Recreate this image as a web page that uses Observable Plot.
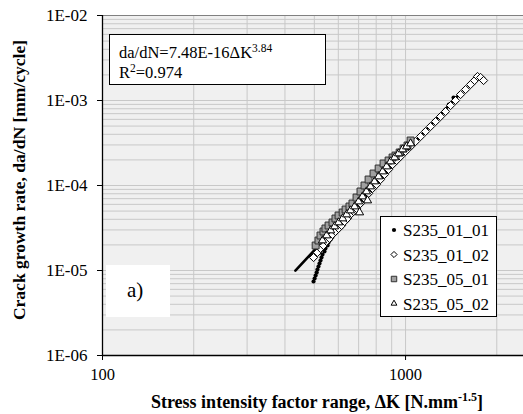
<!DOCTYPE html>
<html><head><meta charset="utf-8">
<script src="https://cdn.jsdelivr.net/npm/d3@7"></script>
<script src="https://cdn.jsdelivr.net/npm/@observablehq/plot@0.6"></script>
<style>body{margin:0;background:#fff} #chart{width:523px;height:414px}</style>
</head><body><div id="chart"></div>
<script>
// ---- data ----
const seriesNames = ["S235_01_01", "S235_01_02", "S235_05_01", "S235_05_02"];

const k_01_01 = [497,501,505,509,512,516,520,524,528,532,540,544,553,557,566,574,583,592,601,615,629,648,668,689,710,738,766,796,827,859,892,927,963,1000,1039,1079,1121,1164,1209,1256,1305,1355,1390,1440];
const r_01_01 = [7.42e-6,8.05e-6,8.73e-6,9.47e-6,1.027e-5,1.115e-5,1.209e-5,1.311e-5,1.422e-5,1.543e-5,1.673e-5,1.815e-5,1.968e-5,2.135e-5,2.316e-5,2.512e-5,2.724e-5,2.955e-5,3.205e-5,3.477e-5,3.77e-5,4.318e-5,4.944e-5,5.66e-5,6.48e-5,7.63e-5,8.73e-5,1.027e-4,1.176e-4,1.384e-4,1.585e-4,1.865e-4,2.135e-4,2.444e-4,2.876e-4,3.293e-4,3.77e-4,4.318e-4,4.944e-4,5.816e-4,6.66e-4,7.836e-4,8.973e-4,1.085e-3];

const k_01_02 = [497,512,524,536,549,561,574,587,601,615,629,643,658,674,689,710,732,755,778,802,827,852,879,906,934,963,1000,1039,1079,1121,1164,1209,1256,1305,1355,1408,1462,1519,1578,1639,1689,1728,1769,1809];
const r_01_02 = [1.422e-5,1.628e-5,1.815e-5,1.968e-5,2.194e-5,2.38e-5,2.651e-5,2.876e-5,3.12e-5,3.384e-5,3.77e-5,4.09e-5,4.558e-5,4.944e-5,5.363e-5,6.14e-5,7.03e-5,8.05e-5,9.22e-5,1.027e-4,1.176e-4,1.347e-4,1.543e-4,1.766e-4,1.968e-4,2.194e-4,2.512e-4,2.876e-4,3.293e-4,3.77e-4,4.318e-4,4.944e-4,5.66e-4,6.48e-4,7.42e-4,8.73e-4,1.0e-3,1.176e-3,1.347e-3,1.543e-3,1.719e-3,1.916e-3,1.865e-3,1.719e-3];

const k_05_01 = [505,516,524,536,544,557,574,587,601,620,634,653,668,689,710,732,755,784,815,846,879,906,927,956,985,1015,1039];
const r_05_01 = [1.968e-5,2.253e-5,2.58e-5,2.876e-5,3.12e-5,3.384e-5,3.67e-5,4.09e-5,4.437e-5,4.813e-5,5.22e-5,5.66e-5,6.14e-5,7.22e-5,8.5e-5,1.0e-4,1.176e-4,1.384e-4,1.585e-4,1.815e-4,1.968e-4,2.135e-4,2.253e-4,2.444e-4,2.724e-4,2.955e-4,3.384e-4];

const k_05_02 = [532,549,566,583,601,620,639,658,679,705,700,721,749,743,766,790,815,840,866,892,920,948,977,1008,1039];
const r_05_02 = [2.253e-5,2.58e-5,2.955e-5,3.293e-5,3.67e-5,4.09e-5,4.558e-5,5.08e-5,5.66e-5,4.813e-5,6.48e-5,7.42e-5,6.66e-5,8.5e-5,9.73e-5,1.115e-4,1.276e-4,1.461e-4,1.673e-4,1.916e-4,2.135e-4,2.38e-4,2.651e-4,2.876e-4,3.12e-4];

// power-law fit shown on the chart: da/dN = A * dK^B
const fitA = 7.48e-16;
const fitB = 3.84;
const fitK = [433, 1500];
const fitEqText = "da/dN=7.48E-16ΔK";
const fitExpText = "3.84";
const fitR2Text = "0.974";

const yTickValues = [1e-6, 1e-5, 1e-4, 1e-3, 1e-2];
const yTickLabels = ["1E-06", "1E-05", "1E-04", "1E-03", "1E-02"];
const xTickValues = [100, 1000];
const xTickLabels = ["100", "1000"];

const xLabelMain = "Stress intensity factor range, ΔK [N.mm";
const xLabelSup = "-1.5";
const xLabelEnd = "]";
const yLabelText = "Crack growth rate, da/dN [mm/cycle]";
const panelLabel = "a)";

// ---- build ----
const zip = (ks, rs) => ks.map((k, i) => ({k, r: rs[i]}));
const d1 = zip(k_01_01, r_01_01), d2 = zip(k_01_02, r_01_02), d3s = zip(k_05_01, r_05_01), d4 = zip(k_05_02, r_05_02);

const font = '"Liberation Serif","Times New Roman",serif';
const xDomain = [100, 2450], yDomain = [1e-6, 1e-2];
const xMinor = [], yMinor = [];
for (let dec = 100; dec <= 1000; dec *= 10) for (let m = 1; m < 10; m++) { const v = m * dec; if (v >= xDomain[0] && v <= xDomain[1]) xMinor.push(v); }
for (let e = -6; e < -2; e++) for (let m = 1; m < 10; m++) yMinor.push(m * Math.pow(10, e));

const gridColor = "#c8c8c8";
const plot = Plot.plot({
  width: 523, height: 414,
  marginTop: 15, marginBottom: 59, marginLeft: 102, marginRight: 0,
  style: {fontFamily: font, background: "#fff", color: "#000"},
  x: {type: "log", domain: xDomain},
  y: {type: "log", domain: yDomain},
  marks: [
    Plot.frame({fill: "#f0f0f0", stroke: null}),
    Plot.ruleX(xMinor, {stroke: gridColor, strokeWidth: 1}),
    Plot.ruleY(yMinor, {stroke: gridColor, strokeWidth: 1}),
    Plot.ruleY([1e-2], {stroke: "#808080", strokeWidth: 1}),
    Plot.axisY(yTickValues, {tickFormat: d => yTickLabels[yTickValues.indexOf(d)], tickSize: 5, tickPadding: 10, fontSize: 17, label: null}),
    Plot.axisX(xTickValues, {tickFormat: d => xTickLabels[xTickValues.indexOf(d)], tickSize: 5, tickPadding: 8, fontSize: 16.5, label: null}),
    Plot.ruleX([xDomain[0]], {stroke: "#000", strokeWidth: 1.3}),
    Plot.ruleY([yDomain[0]], {stroke: "#000", strokeWidth: 1.3}),
    Plot.line(fitK, {x: d => d, y: d => fitA * Math.pow(d, fitB), stroke: "#000", strokeWidth: 2.6}),
    Plot.dot(d1, {x: "k", y: "r", r: 2.1, fill: "#000", stroke: null}),
    Plot.dot(d2, {x: "k", y: "r", symbol: "diamond2", r: 3.7, fill: "#fff", stroke: "#000", strokeWidth: 1}),
    Plot.dot(d3s, {x: "k", y: "r", symbol: "square", r: 3.9, fill: "#a0a0a0", stroke: "#303030", strokeWidth: 1}),
    Plot.dot(d4, {x: "k", y: "r", symbol: "triangle2", r: 3.9, fill: "#fff", stroke: "#000", strokeWidth: 1})
  ]
});
document.getElementById("chart").appendChild(plot);

// ---- annotations (pixel layout) ----
const svg = d3.select(plot);
const txt = (x, y, size) => svg.append("text").attr("x", x).attr("y", y).attr("text-anchor", "start")
  .attr("font-family", font).attr("font-size", size).attr("fill", "#000");
// equation box
svg.append("rect").attr("x", 109.5).attr("y", 34.5).attr("width", 216).attr("height", 50)
  .attr("fill", "#fff").attr("stroke", "#000").attr("stroke-width", 1);
const eq = txt(119, 58, 16.5);
eq.append("tspan").text(fitEqText);
eq.append("tspan").attr("dy", -6).attr("font-size", 11.5).text(fitExpText);
const r2 = txt(119, 78, 16.5);
r2.append("tspan").text("R");
r2.append("tspan").attr("dy", -6).attr("font-size", 11.5).text("2");
r2.append("tspan").attr("dy", 6).text("=" + fitR2Text);

// panel label box
svg.append("rect").attr("x", 106).attr("y", 265).attr("width", 64).attr("height", 52).attr("fill", "#fff");
txt(127, 297, 21).text(panelLabel);

// legend
svg.append("rect").attr("x", 380.5).attr("y", 216.5).attr("width", 116).attr("height", 100)
  .attr("fill", "#fff").attr("stroke", "#000").attr("stroke-width", 1);
const legSyms = [
  {type: d3.symbolCircle, size: 14, fill: "#000", stroke: "none"},
  {type: d3.symbolDiamond2, size: 24, fill: "#fff", stroke: "#000"},
  {type: d3.symbolSquare, size: 30, fill: "#a0a0a0", stroke: "#303030"},
  {type: d3.symbolTriangle2, size: 24, fill: "#fff", stroke: "#000"}
];
seriesNames.forEach((name, i) => {
  const cy = 230 + i * 24.5;
  svg.append("path").attr("transform", `translate(394,${cy})`)
    .attr("d", d3.symbol(legSyms[i].type, legSyms[i].size)())
    .attr("fill", legSyms[i].fill).attr("stroke", legSyms[i].stroke).attr("stroke-width", 1);
  txt(403, cy + 6, 17).text(name);
});

// axis titles
const xl = svg.append("text").attr("x", 317).attr("y", 408).attr("text-anchor", "middle")
  .attr("font-family", font).attr("font-size", 18).attr("font-weight", "bold").attr("fill", "#000");
xl.append("tspan").text(xLabelMain);
xl.append("tspan").attr("dy", -7).attr("font-size", 12).text(xLabelSup);
xl.append("tspan").attr("dy", 7).text(xLabelEnd);
svg.append("text").attr("transform", "translate(25,180) rotate(-90)").attr("text-anchor", "middle")
  .attr("font-family", font).attr("font-size", 17.5).attr("font-weight", "bold").attr("fill", "#000").text(yLabelText);
</script>
</body></html>
